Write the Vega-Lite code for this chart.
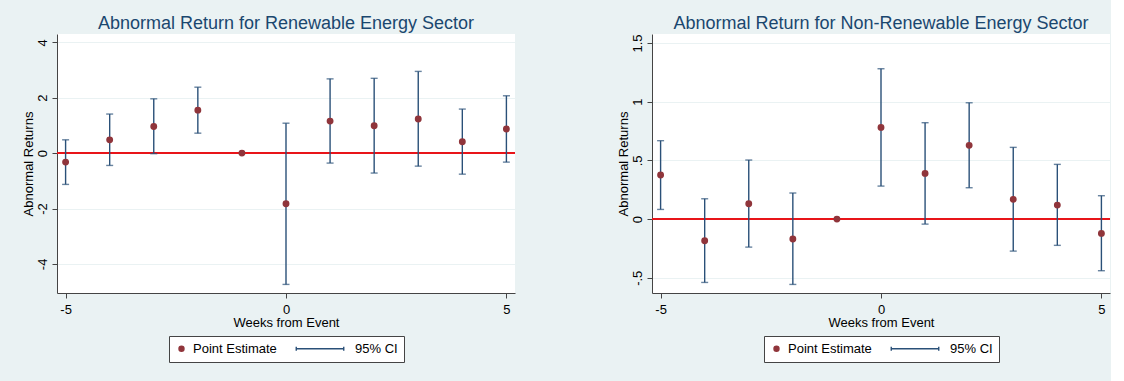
{
  "$schema": "https://vega.github.io/schema/vega-lite/v6.json",
  "background": "#EAF2F3",
  "padding": {"left": 22, "top": 15, "right": 0, "bottom": 0},
  "spacing": 14,
  "config": {
    "view": {"fill": "white", "stroke": null},
    "font": "Liberation Sans",
    "axis": {
      "labelFont": "Liberation Sans", "labelFontSize": 13, "labelColor": "#000",
      "titleFont": "Liberation Sans", "titleFontSize": 13, "titleFontWeight": "normal", "titleColor": "#000",
      "domainColor": "#444", "tickColor": "#444", "tickSize": 5,
      "gridColor": "#EAF2F3", "gridWidth": 1.2, "labelFlush": false
    },
    "legend": {"title": null, "orient": "none", "legendX": 112, "legendY": 302, "direction": "horizontal", "padding": 6, "strokeColor": "#444", "fillColor": "white", "symbolSize": 25, "symbolStrokeWidth": 1.4, "labelFontSize": 13, "labelFont": "Liberation Sans", "labelColor": "#000", "labelOffset": 5, "columnPadding": 16},
    "title": {"font": "Liberation Sans", "fontSize": 18, "fontWeight": "normal", "color": "#1A476F", "anchor": "middle", "frame": "group", "offset": 1}
  },
  "datasets": {
    "renew": [
      {"week": -5, "est": -0.325, "lo": -1.13, "hi": 0.48, "series": "Point Estimate"},
      {"week": -4, "est": 0.48, "lo": -0.445, "hi": 1.41, "series": "Point Estimate"},
      {"week": -3, "est": 0.96, "lo": -0.02, "hi": 1.96, "series": "Point Estimate"},
      {"week": -2, "est": 1.55, "lo": 0.72, "hi": 2.38, "series": "Point Estimate"},
      {"week": -1, "est": 0, "lo": null, "hi": null, "series": "Point Estimate"},
      {"week": 0, "est": -1.83, "lo": -4.74, "hi": 1.08, "series": "Point Estimate"},
      {"week": 1, "est": 1.155, "lo": -0.36, "hi": 2.68, "series": "Point Estimate"},
      {"week": 2, "est": 0.99, "lo": -0.72, "hi": 2.70, "series": "Point Estimate"},
      {"week": 3, "est": 1.23, "lo": -0.47, "hi": 2.95, "series": "Point Estimate"},
      {"week": 4, "est": 0.41, "lo": -0.76, "hi": 1.59, "series": "Point Estimate"},
      {"week": 5, "est": 0.87, "lo": -0.325, "hi": 2.07, "series": "Point Estimate"}
    ],
    "nonrenew": [
      {"week": -5, "est": 0.375, "lo": 0.082, "hi": 0.668, "series": "Point Estimate"},
      {"week": -4, "est": -0.185, "lo": -0.54, "hi": 0.173, "series": "Point Estimate"},
      {"week": -3, "est": 0.131, "lo": -0.239, "hi": 0.503, "series": "Point Estimate"},
      {"week": -2, "est": -0.17, "lo": -0.557, "hi": 0.222, "series": "Point Estimate"},
      {"week": -1, "est": 0, "lo": null, "hi": null, "series": "Point Estimate"},
      {"week": 0, "est": 0.781, "lo": 0.281, "hi": 1.281, "series": "Point Estimate"},
      {"week": 1, "est": 0.389, "lo": -0.043, "hi": 0.821, "series": "Point Estimate"},
      {"week": 2, "est": 0.628, "lo": 0.267, "hi": 0.991, "series": "Point Estimate"},
      {"week": 3, "est": 0.168, "lo": -0.273, "hi": 0.611, "series": "Point Estimate"},
      {"week": 4, "est": 0.119, "lo": -0.224, "hi": 0.466, "series": "Point Estimate"},
      {"week": 5, "est": -0.122, "lo": -0.44, "hi": 0.199, "series": "Point Estimate"}
    ]
  },
  "resolve": {
    "scale": {"x": "independent", "y": "independent", "fill": "independent", "stroke": "independent", "shape": "independent"},
    "legend": {"fill": "independent", "stroke": "independent", "shape": "independent"}
  },
  "hconcat": [
    {
      "width": 458, "height": 259,
      "title": {"text": "Abnormal Return for Renewable Energy Sector"},
      "data": {"name": "renew"},
      "layer": [
        {
          "mark": {"type": "rule", "color": "#E8161B", "strokeWidth": 1},
          "encoding": {"y": {"datum": 0, "type": "quantitative", "title": "Abnormal Returns", "scale": {"domain": [-5.05, 4.3], "nice": false, "zero": false}}}
        },
        {
          "mark": {"type": "rule", "color": "#2A5078", "strokeWidth": 1.4},
          "encoding": {
            "x": {"field": "week", "type": "quantitative", "title": "Weeks from Event", "scale": {"domain": [-5.195, 5.195], "nice": false, "zero": false},
              "axis": {"values": [-5, 0, 5], "grid": false, "labelPadding": 5, "titlePadding": 0, "labelExpr": "datum.value < 0 ? '-' + toString(-datum.value) : toString(datum.value)"}},
            "y": {"field": "lo", "type": "quantitative", "title": "Abnormal Returns", "scale": {"domain": [-5.05, 4.3], "nice": false, "zero": false},
              "axis": {"values": [-4, -2, 0, 2, 4], "grid": true, "labelAngle": -90, "labelAlign": "center", "labelBaseline": "middle", "labelPadding": 9.6, "titlePadding": 1, "labelExpr": "datum.value < 0 ? '-' + toString(-datum.value) : toString(datum.value)"}},
            "y2": {"field": "hi"}
          }
        },
        {
          "mark": {"type": "tick", "orient": "horizontal", "color": "#2A5078", "size": 7, "thickness": 1.4},
          "encoding": {"x": {"field": "week", "type": "quantitative", "title": "Weeks from Event"}, "y": {"field": "lo", "type": "quantitative", "title": "Abnormal Returns"}}
        },
        {
          "mark": {"type": "tick", "orient": "horizontal", "color": "#2A5078", "size": 7, "thickness": 1.4},
          "encoding": {"x": {"field": "week", "type": "quantitative", "title": "Weeks from Event"}, "y": {"field": "hi", "type": "quantitative", "title": "Abnormal Returns"}}
        },
        {
          "mark": {"type": "point", "filled": true, "size": 30, "strokeWidth": 1.4, "opacity": 1},
          "encoding": {
            "x": {"field": "week", "type": "quantitative", "title": "Weeks from Event"},
            "y": {"field": "est", "type": "quantitative", "title": "Abnormal Returns"},
            "fill": {"field": "series", "type": "nominal", "scale": {"domain": ["Point Estimate", "95% CI"], "range": ["#90353B", "#2A5078"]}},
            "stroke": {"field": "series", "type": "nominal", "scale": {"domain": ["Point Estimate", "95% CI"], "range": ["#90353B", "#2A5078"]}},
            "shape": {"field": "series", "type": "nominal", "scale": {"domain": ["Point Estimate", "95% CI"], "range": ["circle", "M-18.9,-0.8V0.8M-18.9,0H0.1M0.1,-0.8V0.8"]}}
          }
        }
      ]
    },
    {
      "width": 73, "height": 381,
      "data": {"values": [{}]},
      "mark": {"type": "point", "opacity": 0},
      "encoding": {}
    },
    {
      "width": 458, "height": 259,
      "title": {"text": "Abnormal Return for Non-Renewable Energy Sector"},
      "data": {"name": "nonrenew"},
      "layer": [
        {
          "mark": {"type": "rule", "color": "#E8161B", "strokeWidth": 1},
          "encoding": {"y": {"datum": 0, "type": "quantitative", "title": "Abnormal Returns", "scale": {"domain": [-0.63, 1.577], "nice": false, "zero": false}}}
        },
        {
          "mark": {"type": "rule", "color": "#2A5078", "strokeWidth": 1.4},
          "encoding": {
            "x": {"field": "week", "type": "quantitative", "title": "Weeks from Event", "scale": {"domain": [-5.195, 5.195], "nice": false, "zero": false},
              "axis": {"values": [-5, 0, 5], "grid": false, "labelPadding": 5, "titlePadding": 0, "labelExpr": "datum.value < 0 ? '-' + toString(-datum.value) : toString(datum.value)"}},
            "y": {"field": "lo", "type": "quantitative", "title": "Abnormal Returns", "scale": {"domain": [-0.63, 1.577], "nice": false, "zero": false},
              "axis": {"values": [-0.5, 0, 0.5, 1, 1.5], "grid": true, "labelAngle": -90, "labelAlign": "center", "labelBaseline": "middle", "labelPadding": 9.6, "titlePadding": 1, "labelExpr": "datum.value < 0 ? '-' + replace(toString(-datum.value), '0.', '.') : replace(toString(datum.value), '0.', '.')"}},
            "y2": {"field": "hi"}
          }
        },
        {
          "mark": {"type": "tick", "orient": "horizontal", "color": "#2A5078", "size": 7, "thickness": 1.4},
          "encoding": {"x": {"field": "week", "type": "quantitative", "title": "Weeks from Event"}, "y": {"field": "lo", "type": "quantitative", "title": "Abnormal Returns"}}
        },
        {
          "mark": {"type": "tick", "orient": "horizontal", "color": "#2A5078", "size": 7, "thickness": 1.4},
          "encoding": {"x": {"field": "week", "type": "quantitative", "title": "Weeks from Event"}, "y": {"field": "hi", "type": "quantitative", "title": "Abnormal Returns"}}
        },
        {
          "mark": {"type": "point", "filled": true, "size": 30, "strokeWidth": 1.4, "opacity": 1},
          "encoding": {
            "x": {"field": "week", "type": "quantitative", "title": "Weeks from Event"},
            "y": {"field": "est", "type": "quantitative", "title": "Abnormal Returns"},
            "fill": {"field": "series", "type": "nominal", "scale": {"domain": ["Point Estimate", "95% CI"], "range": ["#90353B", "#2A5078"]}},
            "stroke": {"field": "series", "type": "nominal", "scale": {"domain": ["Point Estimate", "95% CI"], "range": ["#90353B", "#2A5078"]}},
            "shape": {"field": "series", "type": "nominal", "scale": {"domain": ["Point Estimate", "95% CI"], "range": ["circle", "M-18.9,-0.8V0.8M-18.9,0H0.1M0.1,-0.8V0.8"]}}
          }
        }
      ]
    }
  ]
}
